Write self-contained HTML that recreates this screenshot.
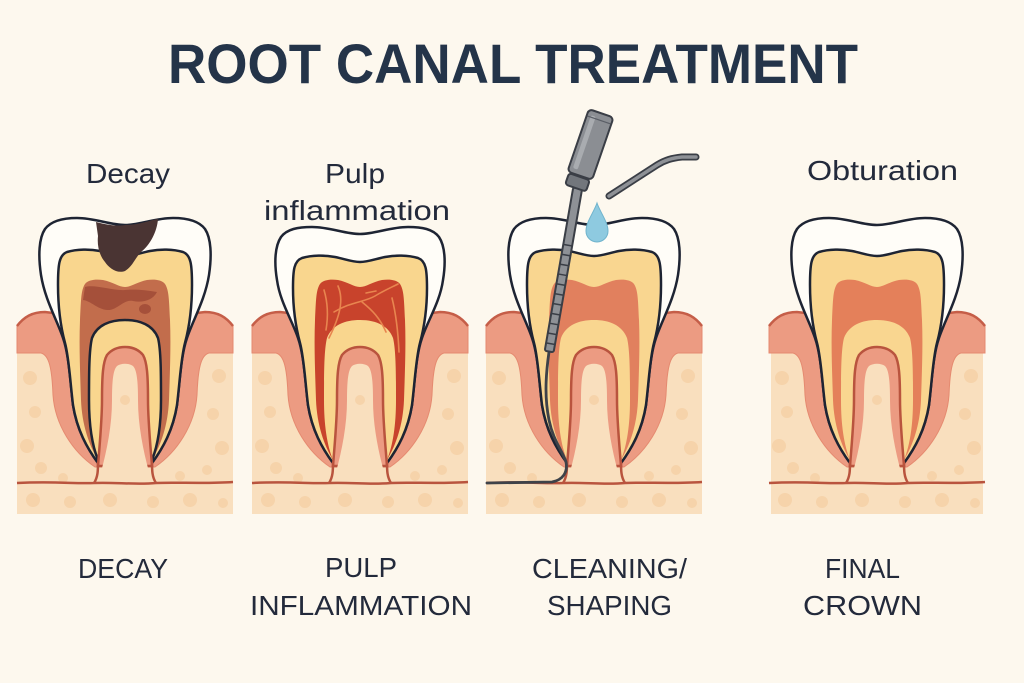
<!DOCTYPE html>
<html><head><meta charset="utf-8"><style>
html,body{margin:0;padding:0;background:#fdf8ee;}
svg{display:block;}
text{font-family:"Liberation Sans","DejaVu Sans",sans-serif;}
</style></head><body>
<svg width="1024" height="683" viewBox="0 0 1024 683" xmlns="http://www.w3.org/2000/svg">
<rect width="1024" height="683" fill="#fdf8ee"/>
<defs>
<path id="out" d="M -27,463 C -38,448 -48,430 -52,405 C -55,380 -56,355 -62,338 C -68,320 -80,300 -84,275 C -87,255 -86,238 -80,229 C -74,221 -62,218 -48,218 C -30,218 -15,225 0,225 C 15,225 30,218 48,218 C 62,218 74,221 80,229 C 86,238 87,255 84,275 C 80,300 68,320 62,338 C 56,355 55,380 52,405 C 48,430 38,448 27,463"/>
<path id="out2" d="M -27,463 C -38,448 -48,430 -52,405 C -55,380 -56,355 -62,338 C -68,320 -80,302 -83,280 C -86,262 -85,246 -79,237 C -73,229 -62,227 -48,227 C -30,227 -15,234 0,234 C 15,234 30,227 48,227 C 62,227 73,229 79,237 C 85,246 86,262 83,280 C 80,302 68,320 62,338 C 56,355 55,380 52,405 C 48,430 38,448 27,463"/>
<path id="den" d="M -27,463 C -38,448 -48,430 -52,405 C -55,380 -56,358 -60,343 C -64,328 -67,310 -67,285 C -67,265 -66,255 -58,252 C -48,249 -35,249 -25,251 C -15,253 -8,256 0,256 C 8,256 15,253 25,251 C 35,249 48,249 58,252 C 66,255 67,265 67,285 C 67,310 64,328 60,343 C 56,358 55,380 52,405 C 48,430 38,448 27,463"/>
<path id="den2" d="M -27,463 C -38,448 -48,430 -52,405 C -55,380 -56,358 -60,343 C -64,328 -67,310 -67,288 C -67,270 -66,261 -58,258 C -48,255 -35,255 -25,257 C -15,259 -8,262 0,262 C 8,262 15,259 25,257 C 35,255 48,255 58,258 C 66,261 67,270 67,288 C 67,310 64,328 60,343 C 56,358 55,380 52,405 C 48,430 38,448 27,463"/>
<path id="pulp" d="M -27,460 C -36,445 -43,425 -44,400 C -45,370 -46,345 -45,320 C -44,300 -44,290 -40,284 C -37,280 -30,279 -22,280 C -12,282 -6,287 0,287 C 6,287 12,282 22,280 C 30,279 37,280 40,284 C 44,290 44,300 45,320 C 46,345 45,370 44,400 C 43,425 36,445 27,460 C 33,445 36,425 36,400 C 36,375 36,350 33,338 C 28,325 15,320 0,320 C -15,320 -28,325 -33,338 C -36,350 -36,375 -36,400 C -36,425 -33,445 -27,460 Z"/>
<path id="arch" d="M -27,460 C -33,445 -36,425 -36,400 C -36,375 -36,350 -33,338 C -28,325 -15,320 0,320 C 15,320 28,325 33,338 C 36,350 36,375 36,400 C 36,425 33,445 27,460"/>
<path id="furc" d="M -27,466 C -25,440 -23,420 -23,400 C -23,375 -22,362 -18,355 C -13,349 -6,347 0,347 C 6,347 13,349 18,355 C 22,362 23,375 23,400 C 23,420 25,440 27,466 Z"/>
<path id="core" d="M -24,472 C -18,450 -13,425 -13,400 C -13,382 -12,370 -8,366 C -4,363 4,363 8,366 C 12,370 13,382 13,400 C 13,425 18,450 24,472 Z"/>
<path id="gum" d="M -108,326 C -101,317 -93,312 -80,312 L 80,312 C 93,312 101,317 108,326 L 108,353 L 84,353 C 76,355 73,368 72,395 C 70,425 52,452 30,467 L -30,467 C -52,452 -70,425 -72,395 C -73,368 -76,355 -84,353 L -108,353 Z"/>
<path id="gumline" d="M -108,326 C -101,317 -93,312 -80,312 L -72,313 M 108,326 C 101,317 93,312 80,312 L 72,313"/>
<path id="apex" d="M -27,462 C -27,470 -27,477 -31,483 M 27,462 C 27,470 27,477 31,483 M -108,483 C -70,481 -50,484 -31,483 C -10,482 10,485 31,483 C 50,482 80,484 108,482"/>
<g id="dots" fill="#f6d3aa">
<circle cx="-95" cy="378" r="7"/><circle cx="-90" cy="412" r="6"/><circle cx="-98" cy="446" r="7"/><circle cx="-84" cy="468" r="6"/>
<circle cx="94" cy="376" r="7"/><circle cx="88" cy="414" r="6"/><circle cx="97" cy="448" r="7"/><circle cx="82" cy="470" r="5"/>
<circle cx="0" cy="396" r="6"/><circle cx="2" cy="432" r="6"/><circle cx="-4" cy="458" r="5"/>
<circle cx="-92" cy="500" r="7"/><circle cx="-55" cy="502" r="6"/><circle cx="-15" cy="500" r="7"/><circle cx="28" cy="502" r="6"/><circle cx="65" cy="500" r="7"/><circle cx="98" cy="503" r="5"/>
<circle cx="-62" cy="478" r="5"/><circle cx="55" cy="476" r="5"/>
</g>
</defs>

<!-- Title -->
<text x="168" y="83" font-size="56" font-weight="bold" fill="#243449" textLength="690" lengthAdjust="spacingAndGlyphs">ROOT CANAL TREATMENT</text>

<!-- Top labels -->
<g fill="#232a3b" font-size="28">
<text x="86" y="183" textLength="84" lengthAdjust="spacingAndGlyphs">Decay</text>
<text x="325" y="183" textLength="60" lengthAdjust="spacingAndGlyphs">Pulp</text>
<text x="264" y="220" textLength="186" lengthAdjust="spacingAndGlyphs">inflammation</text>
<text x="807" y="180" textLength="151" lengthAdjust="spacingAndGlyphs">Obturation</text>
</g>

<!-- Bottom labels -->
<g fill="#232a3b" font-size="28">
<text x="78" y="578" textLength="90" lengthAdjust="spacingAndGlyphs">DECAY</text>
<text x="325" y="577" textLength="72" lengthAdjust="spacingAndGlyphs">PULP</text>
<text x="250" y="615" textLength="222" lengthAdjust="spacingAndGlyphs">INFLAMMATION</text>
<text x="532" y="578" textLength="155" lengthAdjust="spacingAndGlyphs">CLEANING/</text>
<text x="547" y="615" textLength="125" lengthAdjust="spacingAndGlyphs">SHAPING</text>
<text x="825" y="578" textLength="75" lengthAdjust="spacingAndGlyphs">FINAL</text>
<text x="803" y="615" textLength="119" lengthAdjust="spacingAndGlyphs">CROWN</text>
</g>

<!-- Panel 1: Decay -->
<g transform="translate(125,0)">
<rect x="-108" y="328" width="216" height="186" fill="#f9dfbe"/>
<use href="#dots"/>
<use href="#gum" fill="#ec9b82" stroke="#e58a70" stroke-width="1"/>
<use href="#gumline" fill="none" stroke="#c55e48" stroke-width="2.5"/>
<use href="#out" fill="#fffdf8" stroke="#1e2433" stroke-width="2.5"/>
<use href="#den" fill="#f9d68e" stroke="#1e2433" stroke-width="2.5"/>
<use href="#pulp" fill="#c26d4c"/>
<path d="M -40,287 C -30,284 -12,291 0,290 C 10,289 20,290 32,292 C 28,300 18,303 8,301 C -2,299 -8,311 -18,310 C -28,309 -34,301 -42,300 Z" fill="#a5503a"/>
<ellipse cx="20" cy="309" rx="6" ry="5" fill="#a5503a"/>
<use href="#arch" fill="none" stroke="#1e2433" stroke-width="2.5"/>
<use href="#furc" fill="#ec9b82" stroke="#b9543e" stroke-width="2.5"/>
<use href="#core" fill="#f9dfbe"/>
<circle cx="0" cy="400" r="5" fill="#f6d3aa"/>
<use href="#apex" fill="none" stroke="#b9543e" stroke-width="2.5"/>
<path d="M -29,222 C -15,226 -5,226 0,225 C 15,225 25,220 33,219 C 32,232 25,245 16,252 C 10,258 8,266 0,271 C -8,274 -16,268 -20,262 C -26,255 -28,245 -27,236 Z" fill="#4a3433"/>
</g>

<!-- Panel 2: Pulp inflammation -->
<g transform="translate(360,0)">
<rect x="-108" y="328" width="216" height="186" fill="#f9dfbe"/>
<use href="#dots"/>
<use href="#gum" fill="#ec9b82" stroke="#e58a70" stroke-width="1"/>
<use href="#gumline" fill="none" stroke="#c55e48" stroke-width="2.5"/>
<use href="#out2" fill="#fffdf8" stroke="#1e2433" stroke-width="2.5"/>
<use href="#den2" fill="#f9d68e" stroke="#1e2433" stroke-width="2.5"/>
<use href="#pulp" fill="#c8432c"/>
<g fill="none" stroke="#e8854f" stroke-width="1.6" stroke-linecap="round">
<path d="M -36,290 C -33,300 -31,312 -34,330"/>
<path d="M -22,286 C -16,300 -20,316 -31,338"/>
<path d="M -26,312 C -10,302 5,302 15,296 C 25,290 30,288 38,284"/>
<path d="M 2,302 C 12,310 20,318 26,332"/>
<path d="M 6,293 L 16,291"/>
<path d="M 32,298 C 36,314 38,330 39,352"/>
</g>
<use href="#furc" fill="#ec9b82" stroke="#b9543e" stroke-width="2.5"/>
<use href="#core" fill="#f9dfbe"/>
<circle cx="0" cy="400" r="5" fill="#f6d3aa"/>
<use href="#apex" fill="none" stroke="#b9543e" stroke-width="2.5"/>
</g>

<!-- Panel 3: Cleaning / shaping -->
<g transform="translate(594,0)">
<rect x="-108" y="328" width="216" height="186" fill="#f9dfbe"/>
<use href="#dots"/>
<use href="#gum" fill="#ec9b82" stroke="#e58a70" stroke-width="1"/>
<use href="#gumline" fill="none" stroke="#c55e48" stroke-width="2.5"/>
<use href="#out" fill="#fffdf8" stroke="#1e2433" stroke-width="2.5"/>
<use href="#den" fill="#f9d690" stroke="#1e2433" stroke-width="2.5"/>
<use href="#pulp" fill="#e1805e"/>
<use href="#furc" fill="#ec9b82" stroke="#b9543e" stroke-width="2.5"/>
<use href="#core" fill="#f9dfbe"/>
<circle cx="0" cy="400" r="5" fill="#f6d3aa"/>
<use href="#apex" fill="none" stroke="#b9543e" stroke-width="2.5"/>
</g>
<!-- instrument -->
<path d="M 549,352 C 545,380 545,400 549,420 C 553,440 562,450 566,462 C 568,472 563,480 552,482 L 487,483" fill="none" stroke="#3e4249" stroke-width="2.8" stroke-linecap="round"/>
<g transform="translate(577,192) rotate(9.9)">
<rect x="-4.5" y="-4" width="9" height="166" rx="2" fill="#8e9196" stroke="#3a3e46" stroke-width="2"/>
<g stroke="#3a3e46" stroke-width="1.5">
<line x1="-4" y1="54" x2="4" y2="54"/><line x1="-4" y1="64" x2="4" y2="64"/><line x1="-4" y1="74" x2="4" y2="74"/>
<line x1="-4" y1="84" x2="4" y2="84"/><line x1="-4" y1="94" x2="4" y2="94"/><line x1="-4" y1="104" x2="4" y2="104"/>
<line x1="-4" y1="114" x2="4" y2="114"/><line x1="-4" y1="124" x2="4" y2="124"/><line x1="-4" y1="134" x2="4" y2="134"/>
<line x1="-4" y1="144" x2="4" y2="144"/><line x1="-4" y1="154" x2="4" y2="154"/>
</g>
</g>
<g transform="translate(590.5,144.5) rotate(19)">
<rect x="-13" y="-33" width="26" height="66" rx="4" fill="#8b8e93" stroke="#3a3e46" stroke-width="2"/>
<rect x="-9" y="-28" width="5" height="56" rx="2" fill="#a9acb0"/>
<line x1="-12" y1="-26" x2="12" y2="-26" stroke="#5a5e66" stroke-width="1.2"/>
<rect x="-11" y="34" width="22" height="12" rx="3" fill="#72767c" stroke="#3a3e46" stroke-width="2"/>
</g>
<path d="M 609,196 L 657,165 C 665,160 672,158 682,157 L 696,157" fill="none" stroke="#3a3e46" stroke-width="7" stroke-linecap="round" stroke-linejoin="round"/>
<path d="M 609,196 L 657,165 C 665,160 672,158 682,157 L 696,157" fill="none" stroke="#8e9196" stroke-width="3.5" stroke-linecap="round" stroke-linejoin="round"/>
<path d="M 597,203 C 600,212 608,222 608,231 A 11 11 0 0 1 586,231 C 586,222 594,212 597,203 Z" fill="#8ecae0" stroke="#6fb3cc" stroke-width="1"/>

<!-- Panel 4: Obturation -->
<g transform="translate(877,0)">
<rect x="-106" y="328" width="212" height="186" fill="#f9dfbe"/>
<use href="#dots"/>
<use href="#gum" fill="#ec9b82" stroke="#e58a70" stroke-width="1"/>
<use href="#gumline" fill="none" stroke="#c55e48" stroke-width="2.5"/>
<use href="#out" fill="#fffdf8" stroke="#1e2433" stroke-width="2.5"/>
<use href="#den" fill="#f9d690" stroke="#1e2433" stroke-width="2.5"/>
<use href="#pulp" fill="#e4805a"/>
<use href="#furc" fill="#ec9b82" stroke="#b9543e" stroke-width="2.5"/>
<use href="#core" fill="#f9dfbe"/>
<circle cx="0" cy="400" r="5" fill="#f6d3aa"/>
<use href="#apex" fill="none" stroke="#b9543e" stroke-width="2.5"/>
</g>
</svg>
</body></html>
